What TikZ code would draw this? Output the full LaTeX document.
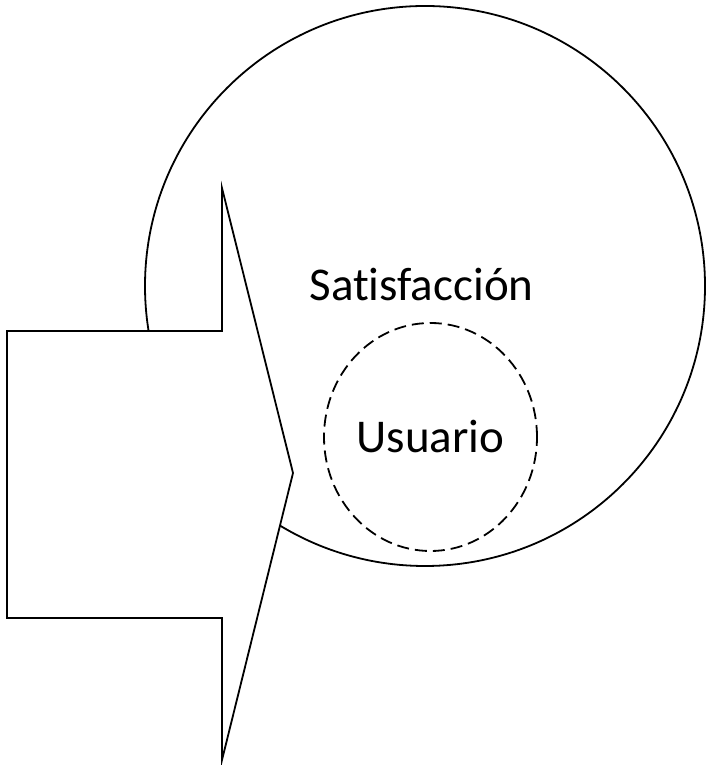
\documentclass[tikz,border=0pt]{standalone}
\usepackage{fontspec}
\setmainfont{Carlito}[Ligatures=NoCommon]
\usetikzlibrary{shapes.geometric}
\tikzset{
  outline/.style={draw=black, line width=1.8pt},
  dashring/.style={draw=black, line width=1.8pt, dash pattern=on 12pt off 6pt, ellipse, inner sep=0pt},
  bigtext/.style={font=\fontsize{47}{56}\selectfont, inner sep=0pt, anchor=base}
}
\begin{document}
\begin{tikzpicture}[x=1pt,y=1pt]
\useasboundingbox (0,0) rectangle (712,765);
% big circle
\node[outline, circle, minimum size=560pt, inner sep=0pt] (satcircle) at (425,479) {};
% block arrow
\draw[outline, fill=white, line join=miter]
  (7,434) -- (222,434) -- (222,577) -- (293,292) -- (222,5) -- (222,147) -- (7,147) -- cycle;
% dashed inner ellipse
\node[dashring, minimum width=213pt, minimum height=228pt] (usercircle) at (430.5,328) {};
% labels
\node[bigtext] (sat) at (421.5,464) {Satisfacción};
\node[bigtext] (usr) at (430.5,312) {Usuario};
\end{tikzpicture}
\end{document}
